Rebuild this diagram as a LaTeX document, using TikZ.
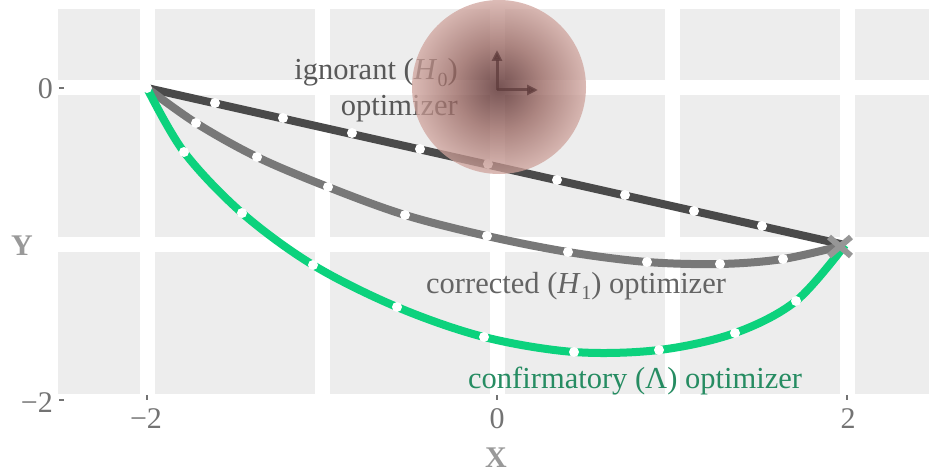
\documentclass[tikz,border=0pt]{standalone}
\usepackage{fontspec}
\setmainfont{Liberation Serif}
\usetikzlibrary{arrows.meta}
\definecolor{panelbg}{RGB}{237,237,237}
\definecolor{darkline}{RGB}{74,74,74}
\definecolor{midline}{RGB}{120,120,120}
\definecolor{greenline}{RGB}{12,210,125}
\definecolor{greentext}{RGB}{38,140,98}
\definecolor{igntext}{RGB}{88,88,88}
\definecolor{cortext}{RGB}{100,100,100}
\definecolor{ticktext}{RGB}{115,115,115}
\definecolor{axislab}{RGB}{153,153,153}
\definecolor{ballin}{RGB}{75,28,28}
\definecolor{ballmid}{RGB}{150,98,92}
\definecolor{ballout}{RGB}{208,164,157}
\definecolor{axcol}{RGB}{95,60,60}
\definecolor{xmark}{RGB}{150,150,150}
\pgfdeclareradialshading{ballshade}{\pgfpoint{0bp}{0bp}}{color(0bp)=(ballin); color(12.5bp)=(ballmid); color(25bp)=(ballout); color(50bp)=(ballout)}
\newcommand{\Hsub}[1]{\textit{H}\kern0.5pt\raisebox{-0.22em}{\fontsize{20pt}{20pt}\selectfont #1}}
\tikzset{
  txt/.style={inner sep=0pt, font=\fontsize{30.5pt}{36pt}\selectfont},
  axlab/.style={txt, text=axislab, font=\fontsize{30pt}{36pt}\selectfont\bfseries},
  ticklab/.style={txt, text=ticktext, font=\fontsize{30pt}{36pt}\selectfont},
  grid line/.style={white, line width=15pt},
  tickmark/.style={ticktext, line width=1.3pt},
  curve/.style={line width=8pt},
  dotw/.style={circle, fill=white, inner sep=0pt, minimum size=10pt},
}
\begin{document}
\begin{tikzpicture}[x=1pt,y=-1pt]
\useasboundingbox (0,0) rectangle (929,476);
% panel
\fill[panelbg] (58,9) rectangle (929,394);
\foreach \gx in {147,322,497,672,847} \draw[grid line] (\gx,9) -- (\gx,394);
\foreach \gy in {88,244.5} \draw[grid line] (58,\gy) -- (929,\gy);
% ticks
\draw[tickmark] (59,88) -- (64,88);
\draw[tickmark] (59,400) -- (64,400);
\foreach \gx in {147,497,847} \draw[tickmark] (\gx,395) -- (\gx,400);
\node[ticklab, anchor=base east] (y0) at (53,99) {0};
\node[ticklab, anchor=base east] (ym2) at (53,412) {−2};
\node[ticklab, anchor=base] (xm2) at (146,428) {−2};
\node[ticklab, anchor=base] (x0) at (497,428) {0};
\node[ticklab, anchor=base] (x2) at (848,428) {2};
\node[axlab, anchor=base] (xlab) at (496,467) {X};
\node[axlab, anchor=base] (ylab) at (22,255) {Y};
% annotations
\node[txt, text=igntext, anchor=base east] (ign1) at (458,80) {ignorant (\Hsub{0})};
\node[txt, text=igntext, anchor=base east] (ign2) at (458,116) {optimizer};
\node[txt, text=cortext, anchor=base west] (cor) at (426,293) {corrected (\Hsub{1}) optimizer};
\node[txt, text=greentext, anchor=base west] (conf) at (468,388) {confirmatory (Λ) optimizer};
% endpoints
\coordinate (S) at (147,88);
\coordinate (E) at (845,245);
% curves
\draw[curve, darkline] (S) -- (E);
\draw[curve, midline] plot[smooth, tension=0.55] coordinates {(147,88) (196,123) (257,157) (328,187) (405,215) (487,236) (568,252) (647,262) (720,264) (783,259) (845,245)};
\draw[curve, greenline] plot[smooth, tension=0.55] coordinates {(147,88) (184,152) (242,213) (313,265) (397,307) (484,337) (574,352) (659,350) (735,333) (796,301) (845,245)};
% dots
\foreach \px/\py in {215/103,283/118,352/133,420/149,488/164,557/180,625/195,694/211,762/226} \node[dotw] at (\px,\py) {};
\foreach \px/\py in {196/123,257/157,328/187,405/215,487/236,568/252,647/262,720/264,783/259} \node[dotw] at (\px,\py) {};
\foreach \px/\py in {184/152,242/213,313/265,397/307,484/337,574/352,659/350,735/333,796/301} \node[dotw] at (\px,\py) {};
\node[dotw] (startdot) at (S) {};
% ball
\node[circle, inner sep=0pt, minimum size=174pt, shading=ballshade, fill opacity=0.75] (ball) at (499,87) {};
\coordinate (ax0) at (497,90);
\coordinate (axup) at (497,50);
\coordinate (axright) at (538,90);
\draw[axcol, opacity=0.75, line width=3pt, -{Triangle[length=11pt,width=10pt]}] (ax0) -- (axup);
\draw[axcol, opacity=0.75, line width=3pt, -{Triangle[length=11pt,width=10pt]}] (ax0) -- (axright);
% end marker
\coordinate (xa) at (829,237);
\coordinate (xb) at (851,256);
\coordinate (xc) at (829,256);
\coordinate (xd) at (851,237);
\draw[xmark, line width=6pt] (xa) -- (xb);
\draw[xmark, line width=6pt] (xc) -- (xd);
\end{tikzpicture}
\end{document}
